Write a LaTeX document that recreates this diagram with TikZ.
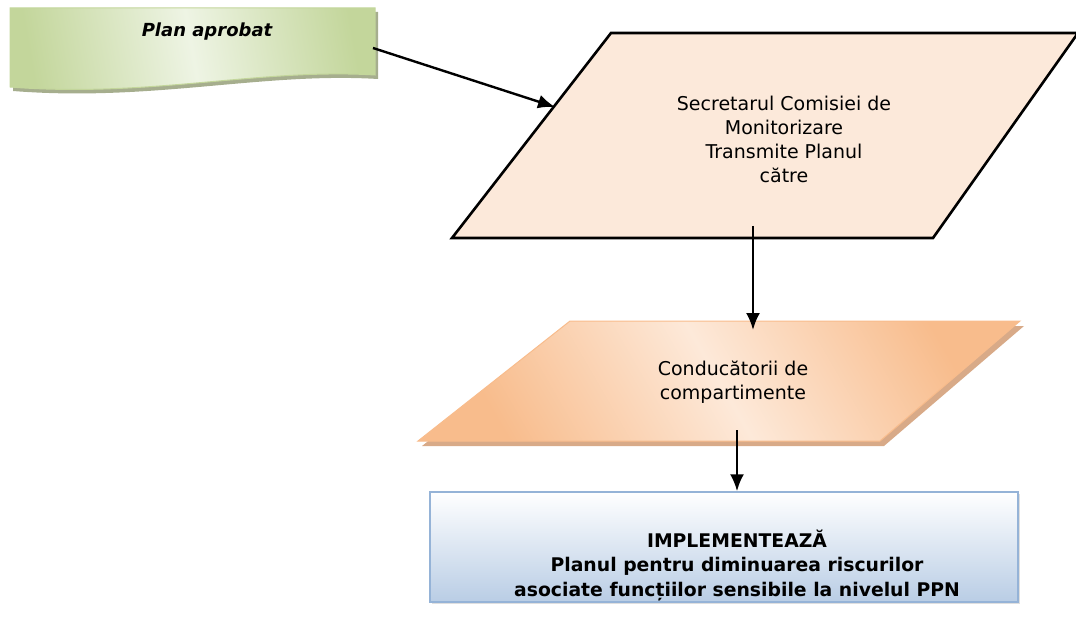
\documentclass[tikz,border=0pt]{standalone}
\usepackage{fontspec}
\setmainfont{DejaVu Sans}
\usetikzlibrary{arrows.meta, shadows}

\definecolor{bannerfill}{HTML}{C3D69B}
\definecolor{bannerlight}{HTML}{EEF4E4}
\definecolor{bannershade}{HTML}{A6AE8E}
\definecolor{peach}{HTML}{FCE9DA}
\definecolor{orangefill}{HTML}{F8BC8C}
\definecolor{orangelight}{HTML}{FDE9D9}
\definecolor{orangeshade}{HTML}{D8AA88}
\definecolor{bluefill}{HTML}{B9CDE5}
\definecolor{blueline}{HTML}{95B3D7}

\tikzset{
    flow/.style={line width=2.4pt, -{Latex[length=17pt, width=14pt]}},
    txt/.style={align=center, inner sep=0pt}
}

\begin{document}
\begin{tikzpicture}[x=1pt, y=-1pt]
    \useasboundingbox (0,0) rectangle (1076,631);

    % banner
    \fill[bannershade] (13,12) -- (378,12) -- (378,79) .. controls (262,72) and (152,102) .. (13,91) -- cycle;
    \draw[bannerfill, line width=1pt, left color=bannerfill, right color=bannerfill, middle color=bannerlight, shading angle=100]
        (10,8) -- (375,8) -- (375,75) .. controls (260,68) and (150,98) .. (10,87) -- cycle;
    \node[txt, font=\fontsize{18}{20}\selectfont\bfseries\itshape] (plan) at (207,32) {Plan aprobat};
    \coordinate (planout) at (373,48);

    % secretar
    \draw[line width=2.6pt, fill=peach] (611,33) -- (1078,33) -- (933,238) -- (452,238) -- cycle;
    \node[txt, font=\fontsize{19}{24}\selectfont] (secr) at (784,139)
        {Secretarul Comisiei de\\Monitorizare\\Transmite Planul\\către};
    \coordinate (secrin) at (555,107);
    \coordinate (secrout) at (753,226);

    % conducatori
    \fill[orangeshade] (574,326) -- (1024,326) -- (884,446) -- (422,446) -- cycle;
    \draw[orangefill, line width=1pt, left color=orangefill, right color=orangefill, middle color=orangelight, shading angle=120]
        (570,321) -- (1020,321) -- (880,441) -- (418,441) -- cycle;
    \node[txt, font=\fontsize{19}{23.5}\selectfont] (cond) at (733,382) {Conducătorii de\\compartimente};
    \coordinate (condin) at (753,330);
    \coordinate (condout) at (737,430);

    % implementeaza
    \node[draw=blueline, line width=1.5pt, top color=white, bottom color=bluefill,
        minimum width=588pt, minimum height=110pt, inner sep=0pt,
        drop shadow={opacity=0.25, shadow xshift=2pt, shadow yshift=-2pt}] (impl) at (724,547) {};
    \node[txt, font=\fontsize{18.8}{24.5}\selectfont\bfseries] (impltext) at (737,565)
        {IMPLEMENTEAZĂ\\Planul pentru diminuarea riscurilor\\asociate funcțiilor sensibile la nivelul PPN};

    \draw[flow] (planout) -- (secrin);
    \draw[flow] (secrout) -- (condin);
    \draw[flow] (condout) -- (condout |- impl.north);
\end{tikzpicture}
\end{document}
